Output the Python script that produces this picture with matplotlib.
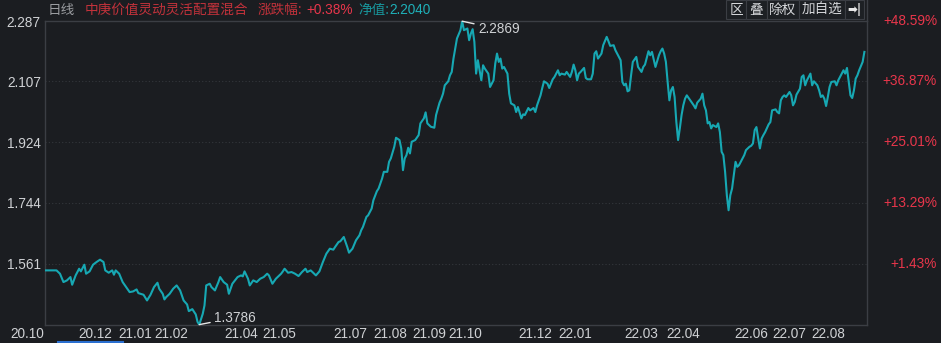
import matplotlib
matplotlib.use("Agg")
import matplotlib.pyplot as plt
import matplotlib.transforms as mtransforms
from matplotlib.patches import Rectangle
from matplotlib.lines import Line2D

# ---------------- data ----------------
fund_name = "中庚价值灵动灵活配置混合"
change_pct = "+0.38%"
latest_nav = "2.2040"

days = [0, 6, 8, 10, 12, 14, 15, 17, 19, 20, 22, 23, 25, 27, 29, 31, 33, 34, 36, 38,
        39, 40, 42, 44, 46, 48, 50, 52, 53, 56, 58, 60, 62, 64, 65, 67, 68, 69, 71, 73,
        75, 77, 79, 81, 82, 84, 86, 87, 88, 90, 91, 92, 94, 95, 97, 99, 100, 102, 104, 105,
        107, 110, 112, 113, 114, 116, 117, 119, 121, 123, 125, 127, 128, 130, 132, 135, 136, 137, 139, 141,
        143, 145, 147, 149, 150, 152, 153, 155, 157, 159, 161, 163, 165, 166, 168, 169, 171, 172, 173, 174,
        176, 178, 180, 181, 182, 184, 185, 187, 188, 190, 191, 193, 194, 196, 197, 198, 200, 201, 203, 204,
        205, 206, 207, 208, 209, 210, 212, 214, 215, 217, 218, 219, 221, 223, 224, 226, 227, 228, 229, 231,
        232, 233, 234, 236, 238, 239, 240, 242, 243, 244, 245, 246, 247, 248, 249, 250, 251, 252, 254, 255,
        257, 258, 259, 260, 261, 262, 263, 265, 266, 267, 269, 270, 271, 273, 274, 275, 277, 278, 280, 281,
        282, 284, 285, 286, 288, 289, 291, 292, 294, 295, 296, 298, 299, 301, 302, 303, 304, 305, 306, 307,
        309, 310, 311, 313, 314, 315, 316, 317, 319, 320, 322, 323, 324, 326, 327, 329, 330, 331, 332, 333,
        334, 335, 336, 337, 339, 340, 342, 343, 344, 346, 347, 348, 350, 352, 353, 354, 355, 356, 357, 358,
        359, 360, 361, 362, 363, 364, 365, 366, 367, 368, 370, 372, 373, 374, 376, 377, 378, 379, 380, 381,
        382, 383, 385, 386, 387, 388, 389, 390, 391, 392, 393, 394, 395, 396, 397, 398, 400, 401, 402, 404,
        405, 406, 407, 408, 409, 410, 411, 412, 413, 415, 416, 417, 419, 420, 421, 422, 423, 424, 425, 427,
        428, 429, 430, 431, 433, 434, 435, 436, 437, 438, 439, 440, 441, 443, 444, 445, 446, 447, 448, 449,
        450, 451, 453, 454, 455, 457, 458, 459, 460, 461, 462, 463, 464, 465, 466, 467, 469, 470]

nav = [1.541, 1.541, 1.531, 1.506, 1.511, 1.521, 1.498, 1.526, 1.546, 1.538, 1.558, 1.531, 1.538, 1.558, 1.566, 1.573, 1.566, 1.541, 1.534, 1.541,
       1.528, 1.541, 1.531, 1.506, 1.491, 1.476, 1.478, 1.484, 1.473, 1.468, 1.451, 1.468, 1.491, 1.504, 1.486, 1.471, 1.454, 1.461, 1.471, 1.486,
       1.496, 1.481, 1.451, 1.439, 1.419, 1.425, 1.409, 1.387, 1.3786, 1.411, 1.436, 1.496, 1.501, 1.491, 1.481, 1.506, 1.521, 1.506, 1.498, 1.471,
       1.501, 1.521, 1.526, 1.523, 1.538, 1.516, 1.496, 1.511, 1.506, 1.516, 1.521, 1.531, 1.526, 1.501, 1.516, 1.531, 1.538, 1.546, 1.534, 1.536,
       1.531, 1.524, 1.536, 1.546, 1.536, 1.541, 1.536, 1.526, 1.538, 1.566, 1.591, 1.606, 1.603, 1.611, 1.626, 1.628, 1.641, 1.626, 1.611, 1.594,
       1.606, 1.631, 1.646, 1.661, 1.671, 1.701, 1.706, 1.726, 1.751, 1.778, 1.786, 1.816, 1.836, 1.836, 1.866, 1.876, 1.911, 1.938, 1.931, 1.906,
       1.841, 1.876, 1.886, 1.908, 1.891, 1.926, 1.931, 1.946, 1.981, 1.996, 2.014, 1.981, 1.971, 1.968, 2.006, 2.043, 2.055, 2.070, 2.095, 2.107,
       2.125, 2.135, 2.175, 2.235, 2.260, 2.2869, 2.260, 2.265, 2.230, 2.250, 2.263, 2.225, 2.130, 2.170, 2.140, 2.110, 2.155, 2.145, 2.130, 2.090,
       2.110, 2.160, 2.190, 2.165, 2.175, 2.145, 2.150, 2.130, 2.070, 2.041, 2.035, 2.015, 2.030, 1.996, 2.008, 2.006, 2.027, 2.020, 2.027, 2.015,
       2.035, 2.065, 2.087, 2.107, 2.100, 2.087, 2.113, 2.120, 2.140, 2.125, 2.130, 2.127, 2.135, 2.120, 2.135, 2.157, 2.140, 2.110, 2.130, 2.135,
       2.147, 2.117, 2.113, 2.113, 2.130, 2.190, 2.197, 2.175, 2.190, 2.215, 2.240, 2.227, 2.213, 2.215, 2.200, 2.180, 2.170, 2.105, 2.095, 2.100,
       2.077, 2.080, 2.125, 2.165, 2.180, 2.150, 2.135, 2.150, 2.157, 2.197, 2.185, 2.195, 2.150, 2.185, 2.197, 2.205, 2.190, 2.165, 2.105, 2.050,
       2.080, 2.090, 2.060, 1.985, 1.931, 1.966, 2.006, 2.035, 2.055, 2.065, 2.050, 2.035, 2.026, 2.043, 2.055, 2.070, 2.035, 2.020, 1.981, 1.985,
       1.966, 1.976, 1.970, 1.981, 1.955, 1.896, 1.886, 1.836, 1.766, 1.721, 1.766, 1.786, 1.826, 1.866, 1.851, 1.856, 1.876, 1.886, 1.901, 1.911,
       1.914, 1.921, 1.961, 1.970, 1.936, 1.906, 1.936, 1.946, 1.955, 1.978, 1.985, 2.020, 2.023, 2.015, 2.011, 2.050, 2.060, 2.065, 2.060, 2.075,
       2.065, 2.035, 2.045, 2.067, 2.085, 2.120, 2.125, 2.095, 2.110, 2.120, 2.130, 2.095, 2.107, 2.095, 2.080, 2.060, 2.065, 2.055, 2.033, 2.060,
       2.090, 2.105, 2.107, 2.095, 2.110, 2.130, 2.140, 2.130, 2.147, 2.105, 2.065, 2.057, 2.080, 2.115, 2.125, 2.140, 2.165, 2.195]

y_ticks = [1.561, 1.744, 1.924, 2.107, 2.287]
y_tick_labels = ["1.561", "1.744", "1.924", "2.107", "2.287"]
pct_labels = ["+1.43%", "+13.29%", "+25.01%", "+36.87%", "+48.59%"]

month_labels = ["20.10", "20.12", "21.01", "21.02", "21.04", "21.05", "21.07", "21.08", "21.09",
                "21.10", "21.12", "22.01", "22.03", "22.04", "22.06", "22.07", "22.08"]
month_pos = [-11, 28, 51, 72, 112, 134, 175, 198, 220, 241, 281, 304, 342, 366, 405, 427, 449]

max_label = "2.2869"
min_label = "1.3786"
buttons = ["区", "叠", "除权", "加自选"]

# ---------------- style ----------------
W, H = 941, 343
BG = "#1b1d21"
FRAME = "#3b3e44"
LINE = "#17a8b3"
TXT = "#cfd1d4"
RED = "#e8364b"
DARKRED = "#c2323b"
TEAL = "#1fb0b8"
CJK = ["Noto Sans CJK SC", "DejaVu Sans"]
NUM = ["Liberation Sans", "DejaVu Sans"]

fig = plt.figure(figsize=(W / 100, H / 100), dpi=100, facecolor=BG)

def fx(px):
    return px / W

def fy(py):
    return 1 - py / H

ax = fig.add_axes([fx(45), fy(325), fx(867) - fx(45), fy(21) - fy(325)])
ax.set_facecolor(BG)
ax.plot(days, nav, color=LINE, lw=1.5, solid_joinstyle="round", zorder=3)
ax.set_xlim(-0.6, 471.5)
ax.set_ylim(1.3775, 2.2875)

for s in ax.spines.values():
    s.set_color(FRAME)
    s.set_linewidth(1.0)

ax.set_yticks(y_ticks)
ax.set_yticklabels(y_tick_labels)
ax.tick_params(axis="y", length=0, pad=3, labelcolor=TXT, labelsize=9.8)
for lab in ax.get_yticklabels():
    lab.set_fontfamily(NUM)
ax.set_xticks([])
for v in y_ticks[:-1]:
    ax.axhline(v, color="#34373c", lw=0.8, ls=(0, (1, 2)), zorder=1)

# right percentage labels
right_trans = mtransforms.blended_transform_factory(fig.transFigure, ax.transData)
for v, lab in zip(y_ticks, pct_labels):
    ax.text(fx(937), v, lab, transform=right_trans,
            ha="right", va="center", color=RED, fontsize=9.8, family=NUM, clip_on=False)

# x month labels
trans_x = mtransforms.blended_transform_factory(ax.transData, fig.transFigure)
for p, lab in zip(month_pos, month_labels):
    ax.text(p, fy(334), lab, transform=trans_x, ha="center", va="center",
            color=TXT, fontsize=9.8, family=NUM, clip_on=False)

# max / min annotations
imax = nav.index(max(nav))
imin = nav.index(min(nav))
ax.annotate(max_label, xy=(days[imax], nav[imax]), xytext=(16, -8), textcoords="offset pixels",
            ha="left", va="center", color=TXT, fontsize=9.8, family=NUM,
            arrowprops=dict(arrowstyle="-", color="#e6e6e6", lw=1.0, shrinkA=1, shrinkB=0))
ax.annotate(min_label, xy=(days[imin], nav[imin]), xytext=(15, 7), textcoords="offset pixels",
            ha="left", va="center", color=TXT, fontsize=9.8, family=NUM,
            arrowprops=dict(arrowstyle="-", color="#e6e6e6", lw=1.0, shrinkA=1, shrinkB=0))

# right panel border line extending to top
fig.add_artist(Line2D([fx(867), fx(867)], [fy(0), fy(21)], color=FRAME, lw=1.0))

# header
fig.text(fx(48), fy(10), "日线", color="#9a9ca0", fontsize=9.8, family=CJK, va="center", ha="left")
fig.text(fx(85), fy(10), fund_name, color=DARKRED, fontsize=9.8, family=CJK, va="center", ha="left")
fig.text(fx(258), fy(10), "涨跌幅:", color=DARKRED, fontsize=9.8, family=CJK, va="center", ha="left")
fig.text(fx(306), fy(10), change_pct, color=RED, fontsize=9.8, family=NUM, va="center", ha="left")
fig.text(fx(358), fy(10), "净值:", color="#18969c", fontsize=9.8, family=CJK, va="center", ha="left")
fig.text(fx(389), fy(10), latest_nav, color=TEAL, fontsize=9.8, family=NUM, va="center", ha="left")

# buttons
edges = [726, 746, 767, 799, 845, 864]
for xl, xr in zip(edges[:-1], edges[1:]):
    fig.add_artist(Rectangle((fx(xl), fy(19)), fx(xr) - fx(xl), fy(0) - fy(19),
                             transform=fig.transFigure, facecolor="#1d2024", edgecolor=FRAME, lw=0.8))
for (xl, xr), lab in zip(zip(edges[:-2], edges[1:-1]), buttons):
    fig.text(fx((xl + xr) / 2), fy(10), lab, color="#d5d7da", fontsize=9.8, family=CJK,
             ha="center", va="center")
fig.text(fx(854), fy(10), "➡|", color="#e8e8e8", fontsize=8.5, family=["DejaVu Sans"],
         ha="center", va="center", fontweight="bold")

# scroll indicator
fig.add_artist(Line2D([fx(58), fx(123)], [fy(341.5), fy(341.5)], color="#2a6fd0", lw=1.5))

fig.savefig("out.png", dpi=100, facecolor=BG)
